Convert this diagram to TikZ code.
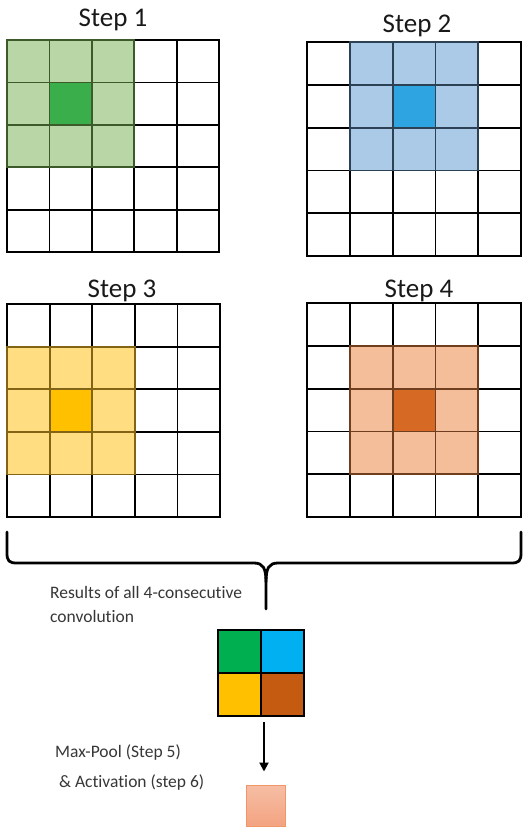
\documentclass[tikz,border=0pt]{standalone}
\usepackage{fontspec}
\setmainfont{Carlito}[Ligatures={NoCommon}]
\usetikzlibrary{arrows.meta,calc}
\definecolor{gLight}{RGB}{185,215,166}
\definecolor{gDark}{RGB}{58,174,74}
\definecolor{gLine}{RGB}{60,90,42}
\definecolor{bLight}{RGB}{171,202,232}
\definecolor{bDark}{RGB}{46,165,225}
\definecolor{bLine}{RGB}{45,65,85}
\definecolor{yLight}{RGB}{255,221,128}
\definecolor{yDark}{RGB}{255,192,0}
\definecolor{yLine}{RGB}{130,100,20}
\definecolor{oLight}{RGB}{245,190,155}
\definecolor{oDark}{RGB}{214,105,35}
\definecolor{oLine}{RGB}{110,62,30}
\definecolor{rGreen}{RGB}{0,176,80}
\definecolor{rBlue}{RGB}{0,176,240}
\definecolor{rYellow}{RGB}{255,192,0}
\definecolor{rBrown}{RGB}{197,90,17}
\definecolor{pTop}{RGB}{246,190,165}
\definecolor{pBot}{RGB}{243,163,128}
\definecolor{pLine}{RGB}{240,150,105}
\definecolor{txt}{RGB}{55,55,55}
\tikzset{
  gridline/.style={line width=1.8pt, line cap=rect},
  title/.style={anchor=base, inner sep=0pt, font=\fontsize{27}{32}\selectfont, text=black!90},
  label/.style={anchor=base west, inner sep=0pt, font=\fontsize{17.5}{24}\selectfont, text=txt, align=left},
  bracestyle/.style={line width=2.8pt, line cap=round, line join=round},
  arrowstyle/.style={line width=2pt, -{Triangle[length=9pt,width=9pt]}},
}
\newcommand{\cgrid}[8]{%
  \begin{scope}[shift={(#1,#2)}]
    \fill[#6] ({#4*#3},{#5*#3}) rectangle ++({3*#3},{3*#3});
    \fill[#7] ({(#4+1)*#3},{(#5+1)*#3}) rectangle ++(#3,#3);
    \foreach \i in {0,...,5} {
      \draw[gridline] ({\i*#3},0) -- ({\i*#3},{5*#3});
      \draw[gridline] (0,{\i*#3}) -- ({5*#3},{\i*#3});
    }
    \foreach \i in {0,...,3} {
      \draw[gridline,#8] ({(#4+\i)*#3},{#5*#3}) -- ++(0,{3*#3});
      \draw[gridline,#8] ({#4*#3},{(#5+\i)*#3}) -- ++({3*#3},0);
    }
  \end{scope}}
\begin{document}
\begin{tikzpicture}[x=1pt,y=-1pt]
\useasboundingbox[fill=white] (0,0) rectangle (528,835);
% grids
\cgrid{7}{40}{42.4}{0}{0}{gLight}{gDark}{gLine}
\cgrid{307}{42}{42.8}{1}{0}{bLight}{bDark}{bLine}
\cgrid{7}{304}{42.6}{0}{1}{yLight}{yDark}{yLine}
\cgrid{307}{303}{42.8}{1}{1}{oLight}{oDark}{oLine}
% titles
\node[title] (t1) at (113,27) {Step 1};
\node[title] (t2) at (417,32) {Step 2};
\node[title] (t3) at (122,297) {Step 3};
\node[title] (t4) at (419,297) {Step 4};
% brace
\coordinate (btip) at (266,609);
\draw[bracestyle] (7,532) -- (7,553) .. controls (7,561) and (9,563) .. (17,563) -- (254,563) .. controls (263,563) and (266,568) .. (266,582) -- (btip);
\draw[bracestyle] (521,532) -- (521,553) .. controls (521,561) and (519,563) .. (511,563) -- (278,563) .. controls (269,563) and (266,568) .. (266,582);
% labels
\node[label] (l1) at (50,598) {Results of all 4-consecutive};
\node[label] (l2) at (50,622) {convolution};
\node[label] (l3) at (55,757) {Max-Pool (Step 5)};
\node[label] (l4) at (59,787) {\& Activation (step 6)};
% result block
\fill[rGreen] (218,630) rectangle (261,673);
\fill[rBlue] (261,630) rectangle (304,673);
\fill[rYellow] (218,673) rectangle (261,716);
\fill[rBrown] (261,673) rectangle (304,716);
\node[draw, line width=2pt, minimum width=86pt, minimum height=86pt, inner sep=0pt] (res) at (261,673) {};
\draw[line width=2pt] (res.north) -- (res.south);
\draw[line width=2pt] (res.west) -- (res.east);
% pooled
\node[draw=pLine, line width=1pt, top color=pTop, bottom color=pBot, minimum width=39pt, minimum height=41pt, inner sep=0pt] (pool) at (265.5,805.5) {};
% arrow
\draw[arrowstyle] ([xshift=3pt,yshift=-5pt]res.south) -- ([xshift=-1.5pt,yshift=13pt]pool.north);
\end{tikzpicture}
\end{document}
